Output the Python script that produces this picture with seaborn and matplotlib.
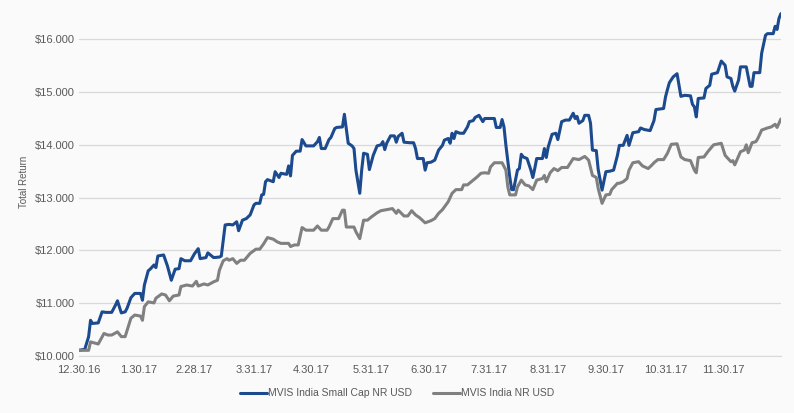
import matplotlib
matplotlib.use("Agg")
import matplotlib.pyplot as plt
import pandas as pd
import seaborn as sns

# days since 30 Dec 2016 and index value (growth of $10,000, in $ thousands)
small_days = [0, 3, 5, 6, 7, 10, 12, 14, 17, 19, 20, 22, 24, 25, 27, 29, 32, 33, 34, 36,
              37, 39, 40, 41, 44, 46, 48, 50, 52, 53, 55, 58, 60, 62, 63, 66, 67, 70, 73, 74,
              76, 78, 80, 82, 83, 85, 87, 89, 91, 92, 94, 95, 96, 97, 98, 101, 102, 104, 105, 108,
              109, 110, 111, 113, 115, 116, 118, 122, 124, 125, 126, 128, 130, 131, 133, 134, 137, 138, 140, 142,
              143, 144, 146, 147, 148, 150, 151, 153, 155, 157, 158, 159, 160, 162, 164, 165, 166, 168, 169, 172,
              174, 175, 176, 179, 180, 181, 183, 185, 187, 189, 190, 192, 193, 194, 195, 196, 198, 200, 202, 203,
              205, 206, 208, 210, 211, 216, 217, 219, 220, 221, 222, 224, 225, 226, 228, 229, 230, 231, 233, 235,
              236, 237, 238, 241, 242, 243, 244, 246, 248, 249, 251, 253, 255, 257, 258, 259, 260, 262, 263, 265,
              266, 267, 269, 270, 272, 274, 276, 278, 280, 281, 283, 285, 286, 288, 291, 292, 294, 297, 299, 300,
              304, 305, 306, 307, 309, 311, 313, 315, 318, 319, 320, 321, 322, 325, 326, 328, 329, 332, 334, 336,
              337, 339, 340, 341, 343, 344, 347, 349, 350, 351, 354, 355, 357, 358, 361, 362, 363, 364, 365]
small_vals = [10.10, 10.12, 10.36, 10.67, 10.61, 10.62, 10.83, 10.82, 10.82, 10.96, 11.04, 10.81, 10.83, 10.90, 11.10, 11.18, 11.18, 11.05, 11.34, 11.61,
              11.64, 11.72, 11.67, 11.89, 11.91, 11.70, 11.43, 11.64, 11.65, 11.84, 11.80, 11.80, 11.93, 12.03, 11.84, 11.86, 11.95, 11.86, 11.87, 11.89,
              12.48, 12.49, 12.48, 12.54, 12.37, 12.57, 12.60, 12.67, 12.86, 12.89, 12.89, 13.05, 13.06, 13.30, 13.34, 13.30, 13.49, 13.38, 13.46, 13.44,
              13.60, 13.41, 13.80, 13.88, 13.88, 14.10, 13.98, 13.98, 14.06, 14.14, 13.93, 13.93, 14.10, 14.14, 14.31, 14.33, 14.34, 14.58, 14.03, 13.98,
              13.93, 13.52, 13.08, 13.52, 13.84, 13.82, 13.53, 13.80, 13.98, 14.00, 14.06, 13.91, 14.03, 14.17, 14.17, 14.05, 14.16, 14.22, 14.05, 14.04,
              14.04, 13.93, 13.74, 13.74, 13.52, 13.66, 13.67, 13.71, 13.90, 13.99, 14.09, 14.12, 14.03, 14.22, 14.12, 14.25, 14.22, 14.22, 14.34, 14.44,
              14.46, 14.52, 14.56, 14.44, 14.50, 14.50, 14.33, 14.33, 14.48, 14.34, 13.99, 13.39, 13.15, 13.15, 13.52, 13.55, 13.82, 13.77, 13.74, 13.52,
              13.38, 13.55, 13.74, 13.74, 13.93, 13.76, 13.96, 14.20, 14.22, 14.10, 14.44, 14.47, 14.47, 14.60, 14.50, 14.54, 14.41, 14.46, 14.56, 14.56,
              14.41, 13.90, 13.89, 13.53, 13.14, 13.49, 13.50, 13.52, 13.80, 13.99, 13.99, 14.18, 13.99, 14.23, 14.25, 14.32, 14.29, 14.27, 14.46, 14.67,
              14.69, 14.91, 15.05, 15.18, 15.29, 15.35, 14.92, 14.94, 14.93, 14.77, 14.72, 14.53, 14.88, 14.89, 15.07, 15.13, 15.34, 15.37, 15.59, 15.51,
              15.29, 15.26, 15.11, 15.02, 15.23, 15.48, 15.48, 15.11, 15.11, 15.37, 15.37, 15.74, 16.08, 16.11, 16.11, 16.25, 16.19, 16.40, 16.49]

india_days = [0, 5, 6, 8, 10, 13, 15, 17, 20, 22, 24, 27, 29, 32, 33, 34, 36, 39, 40, 43,
              45, 47, 49, 52, 53, 56, 59, 61, 62, 65, 67, 70, 72, 73, 75, 77, 78, 80, 82, 84,
              86, 89, 92, 94, 96, 98, 101, 103, 105, 109, 110, 112, 114, 116, 118, 122, 124, 126, 129, 130,
              132, 135, 137, 138, 139, 143, 144, 146, 148, 150, 152, 155, 157, 160, 163, 165, 166, 169, 171, 173,
              175, 177, 180, 183, 185, 187, 189, 192, 194, 196, 199, 200, 202, 204, 207, 209, 211, 213, 214, 216,
              220, 222, 223, 224, 227, 228, 230, 232, 234, 236, 238, 241, 242, 243, 245, 247, 249, 251, 254, 257,
              260, 261, 263, 265, 267, 269, 270, 272, 274, 276, 277, 280, 281, 283, 285, 286, 288, 291, 293, 296,
              298, 299, 301, 304, 306, 308, 311, 313, 315, 318, 320, 321, 322, 325, 327, 330, 334, 336, 339, 340,
              341, 344, 346, 347, 348, 350, 352, 353, 355, 358, 360, 362, 363, 364, 365]
india_vals = [10.10, 10.10, 10.26, 10.24, 10.22, 10.42, 10.39, 10.39, 10.45, 10.36, 10.36, 10.71, 10.77, 10.75, 10.67, 10.93, 11.02, 11.00, 11.09, 11.17,
              11.15, 11.04, 11.13, 11.15, 11.31, 11.34, 11.32, 11.41, 11.32, 11.36, 11.34, 11.40, 11.43, 11.62, 11.80, 11.84, 11.81, 11.84, 11.75, 11.81,
              11.81, 11.94, 12.02, 12.02, 12.12, 12.24, 12.21, 12.16, 12.13, 12.13, 12.07, 12.10, 12.10, 12.43, 12.38, 12.38, 12.46, 12.38, 12.38, 12.44,
              12.60, 12.60, 12.76, 12.76, 12.44, 12.44, 12.35, 12.22, 12.57, 12.57, 12.63, 12.71, 12.75, 12.77, 12.79, 12.70, 12.76, 12.65, 12.65, 12.75,
              12.67, 12.62, 12.52, 12.56, 12.60, 12.70, 12.77, 12.92, 13.08, 13.15, 13.15, 13.24, 13.24, 13.30, 13.39, 13.46, 13.47, 13.46, 13.58, 13.66,
              13.66, 13.52, 13.20, 13.05, 13.05, 13.20, 13.33, 13.24, 13.22, 13.15, 13.33, 13.36, 13.42, 13.30, 13.47, 13.55, 13.51, 13.57, 13.57, 13.74,
              13.72, 13.74, 13.78, 13.71, 13.42, 13.38, 13.17, 12.89, 13.05, 13.06, 13.15, 13.27, 13.27, 13.30, 13.36, 13.52, 13.66, 13.68, 13.60, 13.55,
              13.62, 13.66, 13.72, 13.72, 13.84, 14.01, 14.02, 13.77, 13.72, 13.70, 13.52, 13.47, 13.76, 13.77, 13.87, 14.00, 14.03, 13.80, 13.68, 13.70,
              13.62, 13.87, 13.90, 14.00, 13.85, 14.04, 14.06, 14.12, 14.28, 14.32, 14.34, 14.39, 14.33, 14.41, 14.49]

tick_dates = ["2016-12-30", "2017-01-30", "2017-02-28", "2017-03-31", "2017-04-30", "2017-05-31",
              "2017-06-30", "2017-07-31", "2017-08-31", "2017-09-30", "2017-10-31", "2017-11-30"]
tick_labels = ["12.30.16", "1.30.17", "2.28.17", "3.31.17", "4.30.17", "5.31.17",
               "6.30.17", "7.31.17", "8.31.17", "9.30.17", "10.31.17", "11.30.17"]
y_ticks = [10, 11, 12, 13, 14, 15, 16]
y_labels = ["$10.000", "$11.000", "$12.000", "$13.000", "$14.000", "$15.000", "$16.000"]

series_names = ["MVIS India Small Cap NR USD", "MVIS India NR USD"]
colors = ["#1c4a8e", "#808080"]

start = pd.Timestamp("2016-12-30")
small = pd.DataFrame({"date": start + pd.to_timedelta(small_days, unit="D"), "value": small_vals})
india = pd.DataFrame({"date": start + pd.to_timedelta(india_days, unit="D"), "value": india_vals})

sns.set_style("white")
plt.rcParams["font.family"] = ["Liberation Sans Narrow", "Liberation Sans", "DejaVu Sans"]
bg = "#fafafa"
txt = "#595959"

fig = plt.figure(figsize=(7.94, 4.13), dpi=100, facecolor=bg)
ax = fig.add_axes([0.0995, 0.139, 0.884, 0.842], facecolor=bg)

sns.lineplot(data=small, x="date", y="value", ax=ax, color=colors[0], lw=2.2, label=series_names[0])
sns.lineplot(data=india, x="date", y="value", ax=ax, color=colors[1], lw=2.2, label=series_names[1])

ax.set_xlim(start, start + pd.Timedelta(days=365))
ax.set_ylim(10, 16.6)
ax.set_yticks(y_ticks)
ax.set_yticklabels(y_labels)
ax.set_xticks(pd.to_datetime(tick_dates))
ax.set_xticklabels(tick_labels)
ax.grid(axis="y", color="#d9d9d9", lw=0.9)
ax.set_axisbelow(True)
for s in ["top", "right", "left"]:
    ax.spines[s].set_visible(False)
ax.spines["bottom"].set_color("#d9d9d9")
ax.tick_params(axis="x", length=4, color="#d9d9d9", labelsize=8, labelcolor=txt, pad=3)
ax.tick_params(axis="y", length=0, labelsize=8, labelcolor=txt, pad=3)
ax.set_xlabel("")
ax.set_ylabel("Total Return", fontsize=7, color=txt, labelpad=4)

ax.get_legend().remove()
h, l = ax.get_legend_handles_labels()
fig.legend(h, l, loc="center", bbox_to_anchor=(0.5, 0.048), ncol=2, frameon=False,
           fontsize=7.5, handlelength=2.6, handletextpad=0.1, columnspacing=2.0,
           labelcolor=txt)

fig.savefig("out.png", dpi=100, facecolor=bg)
